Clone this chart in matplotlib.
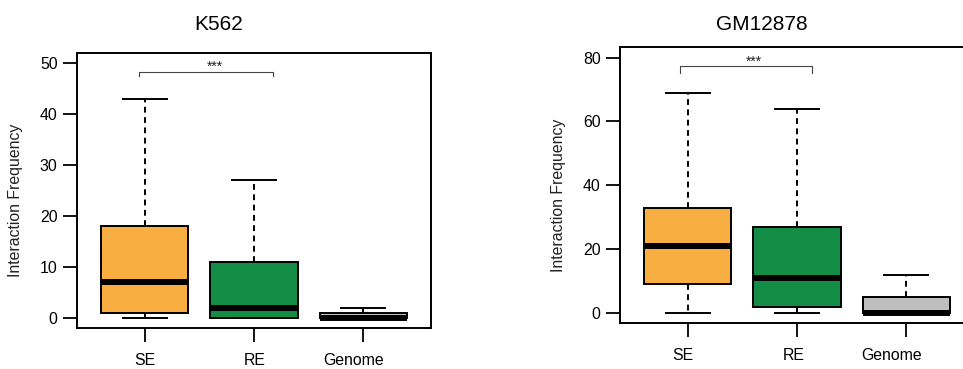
import matplotlib
matplotlib.use("Agg")
import matplotlib.pyplot as plt
from matplotlib.transforms import ScaledTranslation

plt.rcParams['font.family'] = ['Liberation Sans', 'DejaVu Sans']

categories = ["SE", "RE", "Genome"]
colors = ["#F9AE42", "#138D45", "#BEBEBE"]

# K562 box statistics: whisker low, Q1, median, Q3, whisker high
k562_whislo = [0, 0, 0]
k562_q1 = [1, 0, 0]
k562_med = [7, 2, 0]
k562_q3 = [18, 11, 1]
k562_whishi = [43, 27, 2]

# GM12878 box statistics
gm_whislo = [0, 0, 0]
gm_q1 = [9, 2, 0]
gm_med = [21, 11, 0]
gm_q3 = [33, 27, 5]
gm_whishi = [69, 64, 12]

k562_yticks = [0, 10, 20, 30, 40, 50]
gm_yticks = [0, 20, 40, 60, 80]

W, H = 963, 369
fig = plt.figure(figsize=(W / 100, H / 100), dpi=100)


def px_axes(x0, y0, x1, y1):
    return fig.add_axes([x0 / W, 1 - y1 / H, (x1 - x0) / W, (y1 - y0) / H])


def panel(ax, title, tx, lo, q1, med, q3, hi, yticks, ylim, bracket, label_shift):
    stats = []
    for i in range(len(categories)):
        stats.append(dict(whislo=lo[i], q1=q1[i], med=med[i], q3=q3[i],
                          whishi=hi[i], fliers=[]))
    bp = ax.bxp(stats, positions=range(1, len(categories) + 1), widths=0.8,
                capwidths=0.4, patch_artist=True, showfliers=False,
                boxprops=dict(linewidth=1.4, edgecolor="black"),
                medianprops=dict(linewidth=4.3, color="black", solid_capstyle="butt"),
                whiskerprops=dict(linewidth=1.4, color="black", linestyle=(0, (3, 2.3))),
                capprops=dict(linewidth=1.4, color="black"))
    for patch, c in zip(bp["boxes"], colors):
        patch.set_facecolor(c)
    ax.set_xlim(0.38, 3.62)
    ax.set_ylim(*ylim)
    ax.set_yticks(yticks)
    ax.set_xticks(range(1, len(categories) + 1))
    ax.set_xticklabels(categories)
    ax.tick_params(axis="both", direction="out", length=10, width=1.3,
                   labelsize=11.4, colors="black")
    ax.tick_params(axis="y", pad=4)
    ax.tick_params(axis="x", pad=8)
    for lab, dx in zip(ax.get_xticklabels(), label_shift):
        lab.set_transform(lab.get_transform() +
                          ScaledTranslation(dx / 100, 0, fig.dpi_scale_trans))
    for s in ax.spines.values():
        s.set_linewidth(1.4)
    ax.set_ylabel("Interaction Frequency", fontsize=11.4, color="#222222")
    ax.yaxis.set_label_coords(-0.152, 0.465)
    # significance bracket
    bx0, bx1, by, bdrop, sx, sy = bracket
    ax.plot([bx0, bx0, bx1, bx1], [by - bdrop, by, by, by - bdrop],
            color="#444444", linewidth=0.8)
    ax.text(sx, sy, "***", ha="center", va="center", fontsize=10, color="#222222")
    fig.text(tx / W, 1 - 24 / H, title, ha="center", va="center", fontsize=15)


ax1 = px_axes(77, 52.7, 431, 328)
panel(ax1, "K562", 219, k562_whislo, k562_q1, k562_med, k562_q3, k562_whishi,
      k562_yticks, (-2, 52), (0.95, 2.17, 48.2, 0.8, 1.64, 49.2), [0, 1, -10])

ax2 = px_axes(620, 47.3, 974, 323.3)
panel(ax2, "GM12878", 762, gm_whislo, gm_q1, gm_med, gm_q3, gm_whishi,
      gm_yticks, (-3.2, 83.2), (0.93, 2.14, 77.3, 2.1, 1.61, 78.8), [-5, -3, -15])

fig.savefig("out.png", dpi=100)
